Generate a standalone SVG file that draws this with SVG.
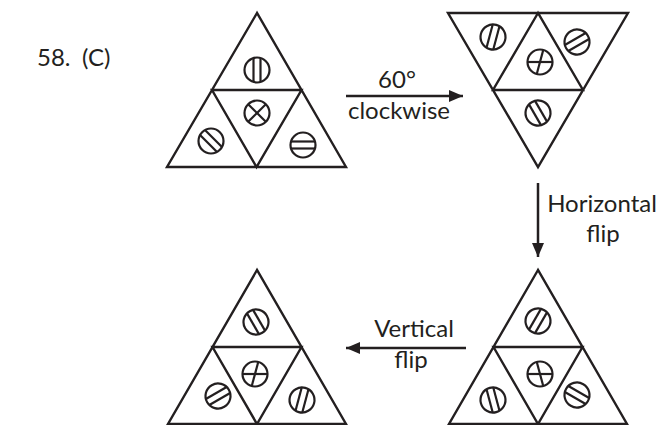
<svg xmlns="http://www.w3.org/2000/svg" xmlns:xlink="http://www.w3.org/1999/xlink" width="670" height="425" viewBox="0 0 670 425">
  <style>
    .edge { fill: none; stroke: #231f20; stroke-width: 2.4; stroke-linejoin: miter; }
    .ring { fill: none; stroke: #231f20; stroke-width: 2.2; }
    .bar { stroke: #231f20; stroke-width: 2.2; }
    .label { font-family: Lato, "Liberation Sans", sans-serif; font-size: 24px; fill: #231f20; }
    .link { stroke: #231f20; stroke-width: 2.5; fill: none; }
  </style>
  <defs>
    <!-- screw head with two parallel slots, slots vertical before rotation -->
    <g id="bars">
      <circle class="ring" r="12.5"/>
      <line class="bar" x1="-3.5" y1="-12" x2="-3.5" y2="12"/>
      <line class="bar" x1="3.5" y1="-12" x2="3.5" y2="12"/>
    </g>
    <!-- single diameter, vertical before rotation -->
    <line id="dia" class="bar" x1="0" y1="-12.5" x2="0" y2="12.5"/>
    <circle id="ring" class="ring" r="12.5"/>
    <marker id="head" viewBox="0 0 14 12" refX="14" refY="6" markerWidth="14" markerHeight="12" markerUnits="userSpaceOnUse" orient="auto">
      <path d="M0,0 L14,6 L0,12 Z" fill="#231f20"/>
    </marker>
  </defs>

  <text class="label" x="37" y="66">58.</text>
  <text class="label" x="82" y="66">(C)</text>

  <!-- original triangle -->
  <g id="tri-start">
    <path class="edge" d="M257,13 L167,167 L346,167 Z M212,90 L301.5,90 L256.5,167 Z"/>
    <use xlink:href="#bars" transform="translate(257,70)"/>
    <g transform="translate(257,113)">
      <use xlink:href="#ring"/>
      <use xlink:href="#dia" transform="rotate(45)"/>
      <use xlink:href="#dia" transform="rotate(-45)"/>
    </g>
    <use xlink:href="#bars" transform="translate(211,141) rotate(-45)"/>
    <use xlink:href="#bars" transform="translate(303,145) rotate(90)"/>
  </g>

  <!-- after 60 degree clockwise rotation -->
  <g id="tri-rotated">
    <path class="edge" d="M448,13 L628,13 L538,167 Z M538,13 L493,90 L583,90 Z"/>
    <use xlink:href="#bars" transform="translate(493,37) rotate(15)"/>
    <use xlink:href="#bars" transform="translate(577,42) rotate(60)"/>
    <g transform="translate(540,62)">
      <use xlink:href="#ring"/>
      <use xlink:href="#dia" transform="rotate(90)"/>
      <use xlink:href="#dia" transform="rotate(15)"/>
    </g>
    <use xlink:href="#bars" transform="translate(538,113) rotate(150)"/>
  </g>

  <!-- after horizontal flip -->
  <g id="tri-hflip">
    <path class="edge" d="M538,270 L449,424 L627,424 Z M493.5,347 L582.5,347 L538,424 Z"/>
    <use xlink:href="#bars" transform="translate(538,321) rotate(30)"/>
    <g transform="translate(540,374)">
      <use xlink:href="#ring"/>
      <use xlink:href="#dia" transform="rotate(90)"/>
      <use xlink:href="#dia" transform="rotate(-15)"/>
    </g>
    <use xlink:href="#bars" transform="translate(493,400) rotate(165)"/>
    <use xlink:href="#bars" transform="translate(577,395) rotate(120)"/>
  </g>

  <!-- after vertical flip -->
  <g id="tri-vflip">
    <path class="edge" d="M257,270 L168,424 L346,424 Z M212.5,347 L301.5,347 L257,424 Z"/>
    <use xlink:href="#bars" transform="translate(256,322) rotate(-30)"/>
    <g transform="translate(255,374)">
      <use xlink:href="#ring"/>
      <use xlink:href="#dia" transform="rotate(90)"/>
      <use xlink:href="#dia" transform="rotate(15)"/>
    </g>
    <use xlink:href="#bars" transform="translate(218,396) rotate(60)"/>
    <use xlink:href="#bars" transform="translate(302,400) rotate(15)"/>
  </g>

  <!-- transformation arrows -->
  <g id="connectors">
    <line class="link" x1="346" y1="96" x2="463" y2="96" marker-end="url(#head)"/>
    <line class="link" x1="538" y1="183" x2="538" y2="257" marker-end="url(#head)"/>
    <line class="link" x1="466" y1="348" x2="346" y2="348" marker-end="url(#head)"/>
  </g>

  <text class="label" x="397" y="88" text-anchor="middle">60°</text>
  <text class="label" x="399" y="119" text-anchor="middle">clockwise</text>
  <text class="label" x="602" y="212" text-anchor="middle">Horizontal</text>
  <text class="label" x="603" y="242" text-anchor="middle">flip</text>
  <text class="label" x="414" y="337" text-anchor="middle">Vertical</text>
  <text class="label" x="411" y="368" text-anchor="middle">flip</text>
</svg>
